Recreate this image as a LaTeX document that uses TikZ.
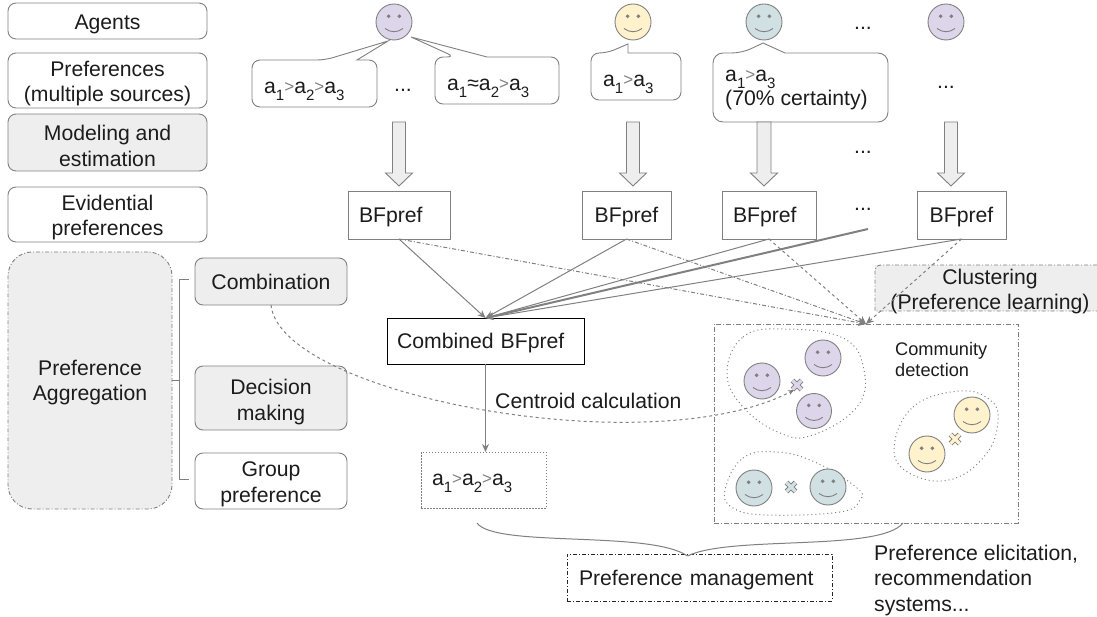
\documentclass[tikz,border=0pt]{standalone}
\usepackage{fontspec}
\setmainfont{Liberation Sans}
\usetikzlibrary{arrows.meta,calc}
\definecolor{edge}{HTML}{808080}
\definecolor{softfill}{HTML}{EEEEEE}
\definecolor{ink}{HTML}{1C1C1C}
\definecolor{purp}{HTML}{DDD5EA}
\definecolor{yell}{HTML}{FFF2CC}
\definecolor{teal2}{HTML}{D0E0E3}
\newcommand\fs{\fontsize{21.2}{25.5}\selectfont}
\newcommand\sbs[1]{\raisebox{-.32em}{\fontsize{15}{15}\selectfont #1}}
\newcommand\gt{\textcolor{edge}{\raisebox{.05em}{\fontsize{17}{17}\selectfont >}}}
\newcommand\smiley[4]{%
  \node[circle,draw=edge,line width=.9pt,fill=#3,minimum size=#4*2pt,inner sep=0pt] (#1) at (#2) {};
  \fill[edge] ($(#1)+(-.3*#4,-.32*#4)$) circle (.11*#4);
  \fill[edge] ($(#1)+(.3*#4,-.32*#4)$) circle (.11*#4);
  \draw[edge,line width=.9pt] ($(#1)+(-.5*#4,.36*#4)$) .. controls ($(#1)+(-.2*#4,.6*#4)$) and ($(#1)+(.2*#4,.6*#4)$) .. ($(#1)+(.5*#4,.36*#4)$);
}
\newcommand\crossmark[3]{%
  \coordinate (#1) at (#2);
  \draw[edge,line width=5pt] ($(#1)+(-4.5,-4.5)$) -- ($(#1)+(4.5,4.5)$) ($(#1)+(-4.5,4.5)$) -- ($(#1)+(4.5,-4.5)$);
  \draw[#3,line width=3.2pt] ($(#1)+(-4.5,-4.5)$) -- ($(#1)+(4.5,4.5)$) ($(#1)+(-4.5,4.5)$) -- ($(#1)+(4.5,-4.5)$);
}
\newcommand\blockarrow[5]{% cx, half shaft, half head, top, tip
  \draw[edge,fill=softfill,line width=.9pt] (#1-#2,#4) -- (#1+#2,#4) -- (#1+#2,#5-13) -- (#1+#3,#5-13) -- (#1,#5) -- (#1-#3,#5-13) -- (#1-#2,#5-13) -- cycle;
}
\tikzset{
  x=1pt,y=-1pt,
  txt/.style={font=\fs,text=ink,align=center,inner sep=0pt},
  rbox/.style={draw=edge,line width=.9pt,rounded corners=8pt,txt,outer sep=0pt},
  gbox/.style={rbox,fill=softfill},
  sbox/.style={draw=edge,line width=.9pt,txt,outer sep=0pt},
  dashdot/.style={dash pattern=on 4pt off 2pt on 1pt off 2pt},
  ddline/.style={draw=edge,line width=.9pt,dashdot},
  conn/.style={draw=edge,line width=1pt,-{Stealth[length=8pt,width=7pt]}},
  blob/.style={draw=edge,line width=1pt,dash pattern=on 1pt off 3pt,smooth cycle,tension=.7},
  call/.style={draw=edge,line width=.9pt,fill=white},
}
\begin{document}
\begin{tikzpicture}
\useasboundingbox (0,0) rectangle (1097,617);
% left column
\node[rbox,text height=22pt,minimum width=199pt,minimum height=36pt] (agents) at (107.5,21) {Agents};
\node[rbox,text height=46.5pt,minimum width=199pt,minimum height=55pt] (prefs) at (107.5,80.5) {Preferences\\(multiple sources)};
\node[gbox,text height=47.5pt,minimum width=199pt,minimum height=57pt] (model) at (107.5,142.5) {Modeling and\\estimation};
\node[rbox,text height=46.5pt,minimum width=199pt,minimum height=55pt] (evid) at (107.5,214.5) {Evidential\\preferences};
\node[txt,text height=44.5pt,fill=softfill,draw=edge,line width=.9pt,dashdot,rounded corners=24pt,minimum width=164pt,minimum height=257pt,outer sep=0pt] (agg) at (90,380.5) {Preference\\Aggregation};
\node[gbox,text height=17pt,minimum width=152pt,minimum height=47pt] (comb) at (271,281.5) {Combination};
\node[gbox,text height=48.5pt,minimum width=152pt,minimum height=64pt] (dec) at (271,398) {Decision\\making};
\node[rbox,text height=46.5pt,minimum width=152pt,minimum height=56pt] (grp) at (271,481) {Group\\preference};
% bracket
\coordinate (brT) at (189,280);
\coordinate (brB) at (189,479);
\draw[edge,line width=1pt] (brT) -- (179,280) -- (179,479) -- (brB);
\draw[edge,line width=1pt] (agg.east) -- (179,380.5);
% agents
\smiley{ag1}{394,22}{purp}{18}
\smiley{ag2}{633,22}{yell}{18}
\smiley{ag3}{764,22}{teal2}{18}
\smiley{ag4}{946,22}{purp}{18}
\node[txt] (dA) at (863,28) {...};
% callouts
\draw[call] (325,60) [sharp corners] -- (388,41) -- (357,60) [rounded corners=8pt] -- (377,60) -- (377,107) -- (252,107) -- (252,60) -- cycle;
\draw[call] (455,57) [sharp corners] -- (411,37) -- (487,57) [rounded corners=8pt] -- (559,57) -- (559,104) -- (435,104) -- (435,57) -- cycle;
\draw[call] (607,53) [sharp corners] -- (628,44) -- (628,53) [rounded corners=8pt] -- (681,53) -- (681,100) -- (591,100) -- (591,53) -- cycle;
\draw[call] (742,53) [sharp corners] -- (763,43) -- (785,53) [rounded corners=10pt] -- (888,53) -- (888,122) -- (713,122) -- (713,53) -- cycle;
\node[txt,anchor=west] (p1) at (264,91) {a\sbs{1}\gt a\sbs{2}\gt a\sbs{3}};
\node[txt] (dB) at (403,90) {...};
\node[txt,anchor=west] (p2) at (447,88) {a\sbs{1}≈a\sbs{2}\gt a\sbs{3}};
\node[txt,anchor=west] (p3) at (603,84) {a\sbs{1}\gt a\sbs{3}};
\node[txt,anchor=west,align=left] (p4) at (725,90) {a\sbs{1}\gt a\sbs{3}\\[-1pt](70\% certainty)};
\node[txt] (dC) at (946,87) {...};
% block arrows
\blockarrow{399}{6.5}{13.5}{122}{186}
\blockarrow{633}{6.5}{13.5}{122}{186}
\blockarrow{764}{7}{13.5}{122}{186}
\blockarrow{951}{6.5}{13.5}{122}{186}
\node[txt] (dD) at (863,152) {...};
% BFpref
\node[sbox,text height=19pt,text width=80pt,align=left,minimum width=102pt,minimum height=48pt] (b1) at (399,215) {BFpref};
\node[sbox,text height=19pt,minimum width=89pt,minimum height=48pt] (b2) at (626.5,215) {BFpref};
\node[sbox,text height=19pt,text width=72pt,align=left,minimum width=94pt,minimum height=48pt] (b3) at (769,215) {BFpref};
\node[sbox,text height=19pt,minimum width=89pt,minimum height=48pt] (b4) at (961.5,215) {BFpref};
\node[txt] (dE) at (863,209) {...};
\coordinate (thick) at (868,229);
% combined
\node[sbox,draw=black,text height=19pt,text width=177pt,align=left,minimum width=197pt,minimum height=46pt] (cb) at (485.5,341) {Combined BFpref};
\node[txt,draw=edge,line width=.9pt,dash pattern=on 1.5pt off 1.5pt,text height=18pt,text width=103pt,align=left,minimum width=125pt,minimum height=56pt,outer sep=0pt] (res) at (483.5,480) {a\sbs{1}\gt a\sbs{2}\gt a\sbs{3}};
% community
\node[draw=edge,line width=.9pt,dash pattern=on 5pt off 2pt on 1pt off 2pt,minimum width=304pt,minimum height=199pt,outer sep=0pt,inner sep=0pt] (comm) at (866,423.5) {};
\fill[softfill] (875,265) rectangle (1097,311);
\draw[ddline] (1097,265) -- (881,265) to[out=180,in=90] (875,271) -- (875,311) -- (1097,311);
\node[txt] (clus) at (990,291.5) {Clustering\\(Preference learning)};
% connectors
\draw[conn] (b1.south) -- (cb.north);
\draw[conn] (b2.south) -- (cb.north);
\draw[conn] (b3.south) -- (cb.north);
\draw[conn,line width=2pt] (thick) -- (cb.north);
\draw[conn] (b4.south) -- (cb.north);
\draw[conn,dashdot] (b1.south) -- (comm.north);
\draw[conn,dashdot] (b2.south) -- (comm.north);
\draw[conn,dashed] (b3.south) -- (comm.north);
\draw[conn,dashed] (b4.south) -- (comm.north);
\draw[conn] (cb.south) -- (cb.south |- res.north);
\node[txt,anchor=west] (cent) at (495,401) {Centroid calculation};
% blobs
\draw[blob] plot coordinates {(727,373) (743,337) (783,329) (843,338) (864,370) (857,407) (813,435) (780,433) (743,407)};
\draw[blob] plot coordinates {(894,450) (913,407) (960,391) (990,400) (998,420) (987,453) (953,479) (913,475)};
\draw[blob] plot coordinates {(725,490) (743,458) (777,452) (817,463) (857,488) (860,500) (840,512) (767,515) (733,508)};
\node[txt,anchor=west,align=left,font=\fontsize{18.2}{21}\selectfont] (cd) at (895,359) {Community\\detection};
\smiley{m1}{823,358}{purp}{18}
\smiley{m2}{762,381}{purp}{18}
\smiley{m3}{814,411}{purp}{17.5}
\smiley{m4}{972,415}{yell}{18}
\smiley{m5}{927,454}{yell}{18}
\smiley{m6}{754,488}{teal2}{18}
\smiley{m7}{828,487}{teal2}{18}
\crossmark{x1}{797,385}{purp}
\crossmark{x2}{955,439}{yell}
\crossmark{x3}{791,487}{teal2}
% centroid curve
\draw[edge,line width=1pt,dashed,-{Stealth[length=6pt,width=5pt]}] (comb.south) .. controls (280,395) and (650,465) .. ($(x1)+(-3,5)$);
% brace
\node[txt,draw=black!85,line width=.9pt,dash pattern=on 4pt off 2pt on 1pt off 2pt,text height=20pt,text width=241pt,align=left,minimum width=265pt,minimum height=47pt,outer sep=0pt] (mgmt) at (699.5,577.5) {Preference management};
\coordinate (brL) at (477,523);
\coordinate (brR) at (903,523);
\coordinate (tip) at (687.5,556);
\draw[edge,line width=1pt] (brL) .. controls (495,548) and (650,530) .. (tip);
\draw[edge,line width=1pt] (brR) .. controls (880,552) and (730,535) .. (tip);
\node[txt,anchor=north west,align=left] (use) at (874,544.5) {Preference elicitation,\\recommendation\\systems...};
\end{tikzpicture}
\end{document}
